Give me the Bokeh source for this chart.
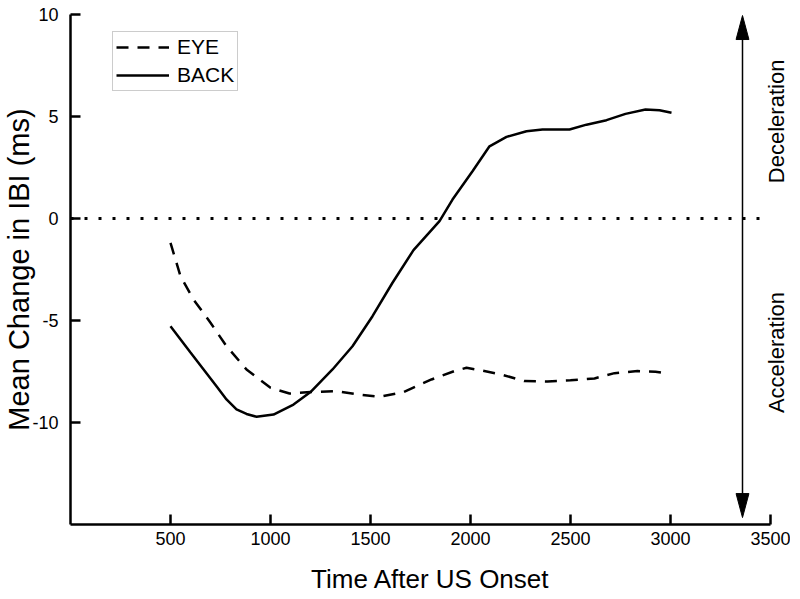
import math
from bokeh.plotting import figure
from bokeh.models import Range1d, FixedTicker, Legend, LegendItem, Label, PrintfTickFormatter
from bokeh.embed import file_html
from bokeh.resources import INLINE

# ---- data ----
back_x = [500, 600, 730, 780, 830, 880, 930, 1015, 1115, 1200, 1310, 1410, 1510, 1610, 1715,
          1845, 1910, 2010, 2095, 2180, 2280, 2360, 2495, 2580, 2680, 2775, 2875, 2945, 3005]
back_y = [-5.28, -6.57, -8.22, -8.87, -9.36, -9.58, -9.72, -9.61, -9.12, -8.51, -7.40, -6.26, -4.79, -3.15, -1.55,
          -0.13, 0.93, 2.32, 3.54, 4.00, 4.28, 4.36, 4.36, 4.60, 4.82, 5.13, 5.34, 5.31, 5.18]

eye_x = [500, 550, 615, 700, 780, 880, 1000, 1095, 1200, 1330, 1445, 1545, 1665,
         1805, 1920, 1980, 2045, 2155, 2270, 2385, 2500, 2620, 2720, 2835, 2925, 2990]
eye_y = [-1.19, -2.83, -3.97, -5.11, -6.26, -7.40, -8.30, -8.58, -8.51, -8.46, -8.63, -8.74, -8.51,
         -7.89, -7.48, -7.32, -7.43, -7.65, -7.97, -7.99, -7.93, -7.84, -7.58, -7.48, -7.51, -7.61]

x_ticks = [500, 1000, 1500, 2000, 2500, 3000, 3500]
y_ticks = [-10, -5, 0, 5, 10]

zero_line_x = [0, 3450]
arrow_x = 3360
arrow_top = 9.95
arrow_bottom = -14.66
side_labels = ["Deceleration", "Acceleration"]
side_label_x = 3530
side_label_y = [4.76, -6.57]

X_START, X_END = 0, 3600
Y_START, Y_END = -15, 10
W, H = 790, 597
BL, BR, BT, BB = 62, 0, 14, 73
FONT = "Liberation Sans"

p = figure(width=W, height=H, output_backend="svg", toolbar_location=None,
           x_range=Range1d(X_START, X_END), y_range=Range1d(Y_START, Y_END),
           min_border_left=BL, min_border_right=BR, min_border_top=BT, min_border_bottom=BB)
p.outline_line_color = None
p.grid.visible = False
p.background_fill_color = "white"
p.border_fill_color = "white"

for ax in (p.xaxis[0], p.yaxis[0]):
    ax.axis_line_width = 2.5
    ax.axis_line_color = "black"
    ax.major_tick_line_width = 2.5
    ax.major_tick_line_color = "black"
    ax.major_tick_in = 10
    ax.major_tick_out = 0
    ax.minor_tick_line_color = None
    ax.major_label_text_font = FONT
    ax.major_label_text_font_size = "18px"
    ax.major_label_text_color = "black"
    ax.axis_label_text_font = FONT
    ax.axis_label_text_font_style = "normal"
    ax.axis_label_text_color = "black"
    ax.formatter = PrintfTickFormatter(format="%d")

p.xaxis.ticker = FixedTicker(ticks=x_ticks)
p.xaxis.bounds = (0, 3500)
p.xaxis.axis_label = "Time After US Onset"
p.xaxis.axis_label_text_font_size = "26px"
p.xaxis.major_label_standoff = 7
p.xaxis.axis_label_standoff = 16

p.yaxis.ticker = FixedTicker(ticks=y_ticks)
p.yaxis.bounds = (Y_START, Y_END)
p.yaxis.axis_label = "Mean Change in IBI (ms)"
p.yaxis.axis_label_text_font_size = "29px"
p.yaxis.major_label_standoff = 12
p.yaxis.axis_label_standoff = -6

# zero reference line (dotted)
p.line(x=zero_line_x, y=[0, 0], line_color="black", line_width=3, line_dash="3 11", line_cap="butt")

r_eye = p.line(x=eye_x, y=eye_y, line_color="black", line_width=2.5, line_dash="12 9")
r_back = p.line(x=back_x, y=back_y, line_color="black", line_width=2.5)

# double-headed arrow
frame_w = W - BL - BR
frame_h = H - BT - BB
px_x = (X_END - X_START) / frame_w
px_y = (Y_END - Y_START) / frame_h
head_len = 24 * px_y
head_half = 6.5 * px_x
p.segment(x0=[arrow_x], y0=[arrow_bottom + head_len * 0.8], x1=[arrow_x], y1=[arrow_top - head_len * 0.8],
          line_color="black", line_width=1.5)
p.patches(xs=[[arrow_x, arrow_x - head_half, arrow_x + head_half],
              [arrow_x, arrow_x - head_half, arrow_x + head_half]],
          ys=[[arrow_top, arrow_top - head_len, arrow_top - head_len],
              [arrow_bottom, arrow_bottom + head_len, arrow_bottom + head_len]],
          fill_color="black", line_color="black", line_width=1)

for txt, ty in zip(side_labels, side_label_y):
    p.add_layout(Label(x=side_label_x, y=ty, text=txt, angle=math.pi / 2,
                       text_align="center", text_baseline="middle",
                       text_font=FONT, text_font_size="22px", text_color="black"))

legend = Legend(items=[LegendItem(label="EYE", renderers=[r_eye]),
                       LegendItem(label="BACK", renderers=[r_back])],
                location=(42, 433))
legend.label_text_font = FONT
legend.label_text_font_size = "21px"
legend.label_text_color = "black"
legend.border_line_color = "#999999"
legend.border_line_width = 1
legend.background_fill_color = "white"
legend.background_fill_alpha = 1
legend.padding = 3
legend.spacing = 4
legend.margin = 0
legend.glyph_width = 53
legend.glyph_height = 20
legend.label_height = 20
legend.label_standoff = 8
p.add_layout(legend)

open("out.html", "w").write(file_html(p, INLINE))
